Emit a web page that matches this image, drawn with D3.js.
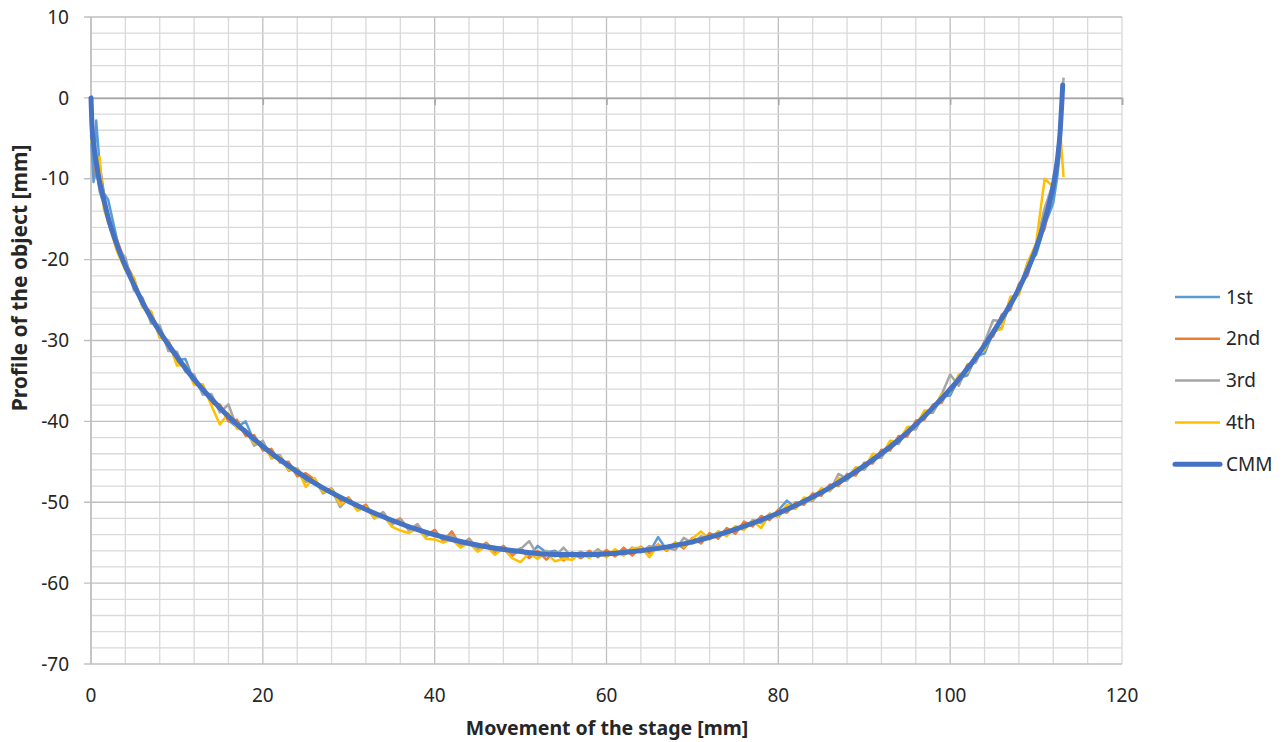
<!DOCTYPE html>
<html>
<head>
<meta charset="utf-8">
<script src="https://cdn.jsdelivr.net/npm/d3@7"></script>
<style>
  body { margin: 0; background: #fff; }
  svg { font-family: "Noto Sans", "Open Sans", sans-serif; }
</style>
</head>
<body>
<div id="chart"></div>
<script>
// stage positions used for the four measurement runs [mm]
var runX = [0, 0.3, 0.6, 1, 1.5,
  2, 3, 4, 5, 6, 7, 8, 9, 10, 11,
  12, 13, 14, 15, 16, 17, 18, 19, 20, 21,
  22, 23, 24, 25, 26, 27, 28, 29, 30, 31,
  32, 33, 34, 35, 36, 37, 38, 39, 40, 41,
  42, 43, 44, 45, 46, 47, 48, 49, 50, 51,
  52, 53, 54, 55, 56, 57, 58, 59, 60, 61,
  62, 63, 64, 65, 66, 67, 68, 69, 70, 71,
  72, 73, 74, 75, 76, 77, 78, 79, 80, 81,
  82, 83, 84, 85, 86, 87, 88, 89, 90, 91,
  92, 93, 94, 95, 96, 97, 98, 99, 100, 101,
  102, 103, 104, 105, 106, 107, 108, 109, 110, 111,
  112, 112.5, 112.9, 113.2]

var run1 = [-4.5, -10.4, -2.8, -8.2, -11.8,
  -12.6, -17.4, -21.2, -22.6, -25.8, -26.6, -29.3, -30.1, -32.4, -32.3,
  -35.1, -35.6, -37.6, -38.0, -39.9, -40.7, -40.0, -42.5, -42.8, -44.3,
  -44.2, -45.9, -45.9, -47.3, -47.1, -48.6, -48.3, -49.8, -49.5, -50.8,
  -50.5, -51.9, -51.3, -52.6, -52.2, -53.4, -52.9, -54.0, -53.5, -54.7,
  -54.2, -55.3, -54.8, -55.7, -55.1, -55.9, -55.5, -56.3, -55.7, -56.6,
  -55.4, -56.2, -56.0, -56.8, -56.2, -56.9, -56.3, -56.7, -56.0, -56.6,
  -55.9, -56.4, -55.7, -56.2, -54.3, -55.9, -55.0, -55.4, -54.5, -54.9,
  -53.9, -54.3, -53.3, -53.7, -52.6, -52.9, -51.8, -52.1, -51.0, -49.8,
  -50.7, -49.6, -49.8, -48.5, -48.6, -47.3, -47.3, -45.9, -45.9, -44.4,
  -44.3, -42.8, -42.7, -41.0, -40.9, -39.0, -38.9, -37.0, -36.8, -34.7,
  -34.3, -32.0, -31.6, -29.0, -28.4, -25.0, -24.2, -20.6, -19.4, -15.8,
  -13.0, -9.5, -5.2, null]

var run2 = [-1.0, -5.0, -9.8, -9.2, -12.0,
  -15.4, -17.5, -20.3, -22.4, -25.6, -26.5, -29.6, -30.0, -32.6, -33.1,
  -35.3, -35.5, -37.8, -37.9, -40.0, -39.8, -41.8, -41.7, -43.6, -43.4,
  -45.1, -45.0, -46.8, -46.4, -47.2, -48.7, -48.4, -49.9, -49.4, -50.9,
  -50.3, -51.9, -51.3, -52.6, -52.0, -53.4, -52.8, -54.2, -53.4, -54.8,
  -53.6, -55.4, -54.5, -55.8, -55.0, -56.2, -55.4, -56.6, -55.8, -56.9,
  -56.0, -57.1, -56.1, -57.2, -56.3, -56.9, -56.0, -56.8, -55.9, -56.7,
  -55.6, -56.6, -55.5, -56.3, -55.2, -56.0, -55.0, -55.7, -54.4, -55.1,
  -53.8, -54.5, -53.2, -53.9, -52.4, -53.0, -51.7, -52.2, -50.9, -51.3,
  -50.0, -50.3, -48.9, -49.2, -47.8, -48.0, -46.5, -46.7, -45.1, -45.2,
  -43.5, -43.6, -41.8, -41.9, -39.9, -39.8, -37.9, -37.7, -35.8, -35.2,
  -33.0, -32.6, -30.1, -29.5, -26.8, -26.2, -23.0, -22.0, -18.2, -16.2,
  -10.5, -8.8, -5.5, null]

var run3 = [-2.0, -6.5, -8.6, -11.6, -13.2,
  -15.1, -18.6, -19.7, -23.8, -24.7, -27.9, -28.1, -31.3, -31.4, -33.9,
  -34.2, -36.7, -36.6, -38.9, -37.9, -40.8, -41.0, -43.0, -42.4, -44.6,
  -44.2, -46.1, -45.8, -47.5, -47.1, -48.9, -48.4, -50.6, -49.5, -51.0,
  -50.5, -52.0, -51.2, -52.8, -52.1, -53.5, -52.7, -54.2, -53.7, -54.6,
  -54.1, -55.2, -54.6, -55.7, -55.2, -56.0, -55.6, -56.2, -55.8, -54.8,
  -56.6, -56.0, -56.7, -55.6, -56.8, -56.1, -56.7, -55.8, -56.6, -55.9,
  -56.5, -55.6, -56.2, -55.4, -55.8, -55.6, -55.9, -54.4, -55.1, -54.2,
  -54.6, -53.6, -54.0, -53.0, -53.4, -52.2, -52.6, -51.4, -51.8, -50.6,
  -50.8, -49.5, -49.8, -48.3, -48.6, -46.5, -47.1, -45.7, -46.0, -44.5,
  -44.5, -42.6, -42.8, -40.9, -41.0, -38.7, -38.9, -36.7, -34.2, -35.6,
  -33.2, -32.7, -30.2, -27.5, -27.6, -24.9, -23.9, -20.4, -18.3, -13.6,
  -10.5, -7.0, -2.0, 2.5]

var run4 = [-5.2, -6.0, -8.3, -7.3, -13.8,
  -15.3, -18.9, -21.3, -22.2, -25.9, -26.4, -29.6, -30.0, -33.1, -33.0,
  -35.5, -35.4, -38.0, -40.4, -39.0, -40.9, -41.1, -42.7, -42.9, -44.5,
  -44.3, -46.0, -45.8, -48.1, -47.0, -48.7, -48.4, -50.3, -49.6, -51.0,
  -50.6, -51.9, -51.6, -53.0, -53.5, -53.8, -53.2, -54.5, -54.6, -55.0,
  -54.6, -55.6, -55.0, -56.1, -55.4, -56.5, -55.7, -56.9, -57.4, -56.3,
  -57.0, -56.2, -57.3, -57.0, -57.1, -56.3, -56.9, -56.1, -56.8, -55.8,
  -56.6, -55.7, -55.6, -56.8, -55.3, -55.9, -55.0, -55.5, -54.5, -53.6,
  -54.6, -53.6, -54.2, -53.0, -53.4, -52.3, -53.2, -51.4, -51.8, -50.3,
  -50.8, -49.4, -49.7, -48.3, -48.6, -47.0, -47.2, -45.7, -45.8, -44.0,
  -44.2, -42.4, -42.5, -40.7, -40.6, -38.7, -38.6, -36.6, -36.4, -34.2,
  -34.0, -31.6, -31.2, -28.7, -28.6, -24.6, -24.4, -20.4, -18.0, -10.0,
  -11.0, -7.5, -5.5, -9.8]

// reference profile measured on the CMM
var cmmX = [0, 0.1, 0.3, 0.6, 1, 1.5, 2, 3, 4, 5, 6, 8, 10, 12, 14, 16, 18, 20, 23, 26,
  30, 34, 38, 42, 46, 50, 54, 58, 62, 66, 70, 74, 78, 82, 86, 90, 94, 98, 101, 104,
  106, 108, 110, 111, 112, 112.5, 112.8, 113, 113.1]
var cmmY = [0, -3.2, -5.6, -7.9, -10.4, -12.6, -14.8, -18.1, -20.8, -23.1, -25.3, -28.9, -32.0, -34.8, -37.2, -39.4, -41.3, -43.1, -45.5, -47.6,
  -49.9, -51.8, -53.4, -54.6, -55.5, -56.1, -56.45, -56.45, -56.2, -55.7, -54.9, -53.7, -52.2, -50.4, -48.2, -45.5, -42.3, -38.3, -34.8, -30.6,
  -27.3, -23.6, -18.6, -15.2, -10.8, -7.5, -4.2, -0.5, 1.6]

var seriesNames = ['1st', '2nd', '3rd', '4th', 'CMM']
var seriesColors = ['#5B9BD5', '#ED7D31', '#A5A5A5', '#FFC000', '#4472C4']

var xTicks = [0, 20, 40, 60, 80, 100, 120]
var yTicks = [10, 0, -10, -20, -30, -40, -50, -60, -70]

var svg_width = 1287
var svg_height = 742
var plotLeft = 91, plotRight = 1122, plotTop = 17, plotBottom = 664

var svg = d3.select('#chart').append('svg')
    .attr('width', svg_width)
    .attr('height', svg_height)

var x = d3.scaleLinear().domain([0, 120]).range([plotLeft, plotRight])
var y = d3.scaleLinear().domain([-70, 10]).range([plotBottom, plotTop])

// gridlines: minor and major
var grid = svg.append('g')
grid.selectAll('.vgrid')
    .data(d3.range(0, 121, 4))
    .enter().append('line')
    .attr('x1', d => x(d)).attr('x2', d => x(d))
    .attr('y1', plotTop).attr('y2', plotBottom)
    .attr('stroke', d => (d % 20 == 0 && d < 120) ? '#BFBFBF' : '#D9D9D9')
    .attr('stroke-width', 1.3)
grid.selectAll('.hgrid')
    .data(d3.range(-70, 11, 2))
    .enter().append('line')
    .attr('x1', d => (d % 10 == 0) ? plotLeft - 7 : plotLeft).attr('x2', plotRight)
    .attr('y1', d => y(d)).attr('y2', d => y(d))
    .attr('stroke', d => (d % 10 == 0) ? '#BFBFBF' : '#D9D9D9')
    .attr('stroke-width', 1.3)

// vertical axis line at x = 0
svg.append('line')
    .attr('x1', x(0)).attr('x2', x(0))
    .attr('y1', plotTop).attr('y2', plotBottom)
    .attr('stroke', '#BFBFBF').attr('stroke-width', 1.5)

// horizontal axis crosses at y = 0, labels sit at the bottom
var xAxis = svg.append('g')
    .attr('transform', 'translate(0,' + y(0) + ')')
    .call(d3.axisBottom(x).tickValues(xTicks).tickSize(7).tickFormat(''))
xAxis.select('.domain').attr('stroke', '#A6A6A6').attr('stroke-width', 1.5)
xAxis.selectAll('.tick line').attr('stroke', '#A6A6A6').attr('stroke-width', 1.5)

svg.append('g').selectAll('text')
    .data(xTicks)
    .enter().append('text')
    .attr('x', d => x(d))
    .attr('y', 702)
    .attr('text-anchor', 'middle')
    .attr('font-size', 19)
    .attr('fill', '#262626')
    .text(d => d)

svg.append('g').selectAll('text')
    .data(yTicks)
    .enter().append('text')
    .attr('x', 69)
    .attr('y', d => y(d))
    .attr('dy', '0.35em')
    .attr('text-anchor', 'end')
    .attr('font-size', 19)
    .attr('fill', '#262626')
    .text(d => d)

// axis titles
svg.append('text')
    .attr('x', 607)
    .attr('y', 735)
    .attr('text-anchor', 'middle')
    .attr('font-size', 19.5)
    .attr('font-weight', 'bold')
    .attr('fill', '#262626')
    .text('Movement of the stage [mm]')

svg.append('text')
    .attr('transform', 'translate(27,278) rotate(-90)')
    .attr('text-anchor', 'middle')
    .attr('font-size', 21)
    .attr('font-weight', 'bold')
    .attr('fill', '#262626')
    .text('Profile of the object [mm]')

// the four runs
var runLine = d3.line()
    .defined(d => d[1] != null)
    .x(d => x(d[0]))
    .y(d => y(d[1]))

var runs = [run1, run2, run3, run4]
runs.forEach(function(vals, i) {
    svg.append('path')
        .datum(runX.map((v, j) => [v, vals[j]]))
        .attr('d', runLine)
        .attr('fill', 'none')
        .attr('stroke', seriesColors[i])
        .attr('stroke-width', 2.5)
        .attr('stroke-linejoin', 'round')
})

// CMM reference curve on top
var cmmLine = d3.line()
    .x(d => x(d[0]))
    .y(d => y(d[1]))
    .curve(d3.curveMonotoneX)
svg.append('path')
    .datum(cmmX.map((v, j) => [v, cmmY[j]]))
    .attr('d', cmmLine)
    .attr('fill', 'none')
    .attr('stroke', seriesColors[4])
    .attr('stroke-width', 5)
    .attr('stroke-linecap', 'round')

// legend
var legend = svg.append('g')
    .selectAll('g')
    .data(seriesNames)
    .enter().append('g')
    .attr('transform', (d, i) => 'translate(1175,' + (297 + i * 41.8) + ')')
legend.append('line')
    .attr('x1', 0).attr('x2', 45)
    .attr('stroke', (d, i) => seriesColors[i])
    .attr('stroke-width', (d, i) => i == 4 ? 5 : 2.5)
    .attr('stroke-linecap', (d, i) => i == 4 ? 'round' : 'butt')
legend.append('text')
    .attr('x', 51)
    .attr('dy', '0.35em')
    .attr('font-size', 19)
    .attr('fill', '#262626')
    .text(d => d)
</script>
</body>
</html>
